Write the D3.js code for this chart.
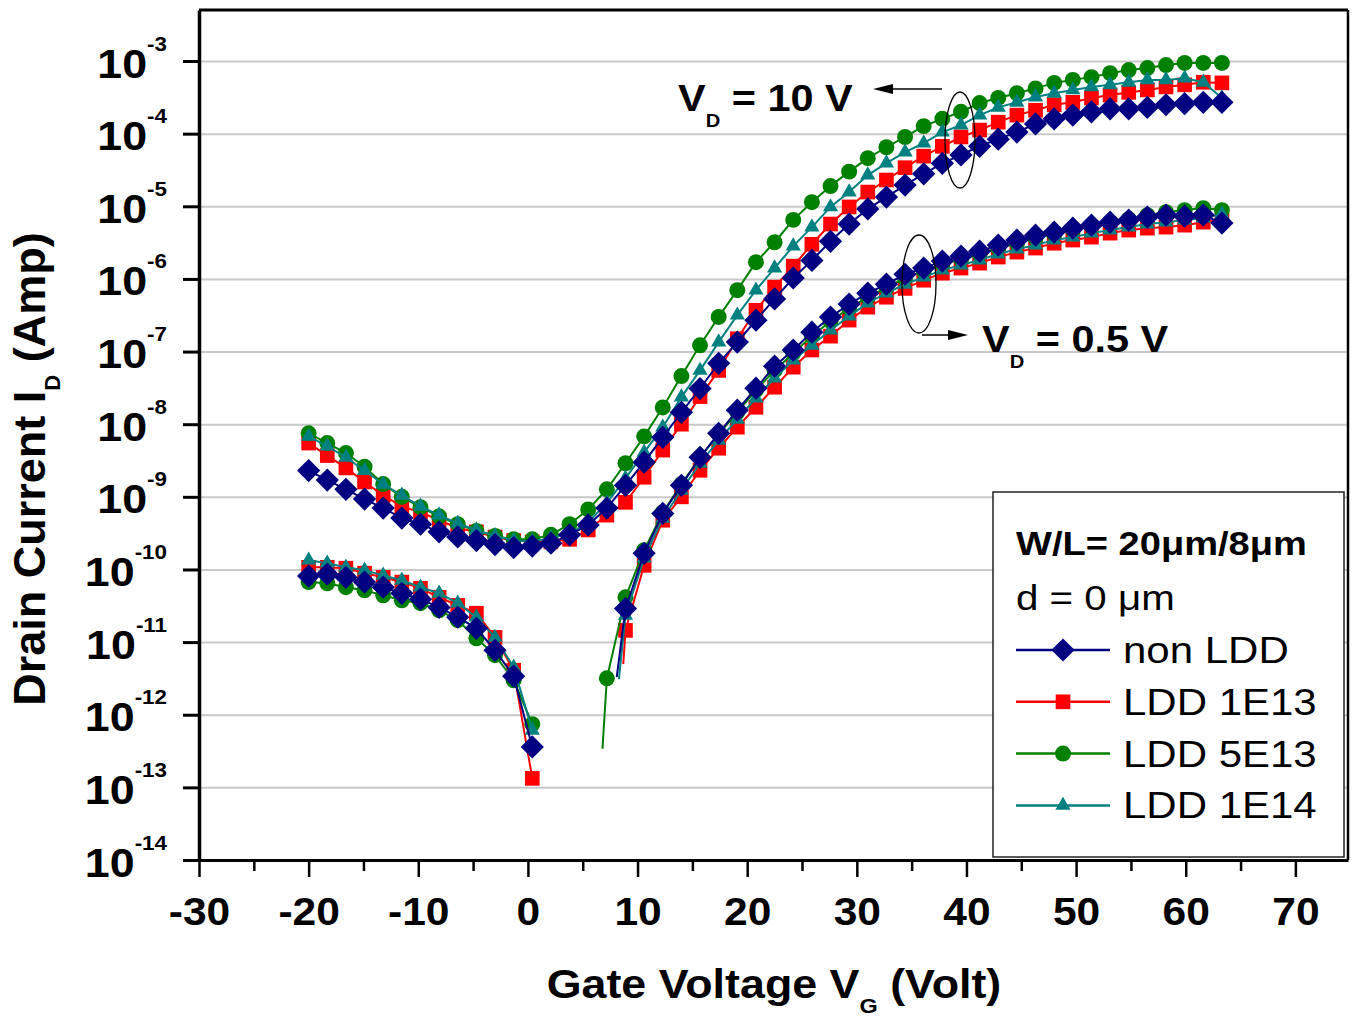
<!DOCTYPE html>
<html>
<head>
<meta charset="utf-8">
<script src="https://cdn.jsdelivr.net/npm/d3@7"></script>
<style>
  body { margin: 0; background: #fff; }
  svg { display: block; font-family: "Liberation Sans", Arial, sans-serif; }
</style>
</head>
<body>
<svg id="chart" width="1359" height="1019"></svg>
<script>
// gate voltage sweep (V), one value per plotted marker
const VG = [-20, -18.3, -16.6, -14.9, -13.2, -11.5, -9.8, -8.1, -6.4, -4.7,
  -3, -1.3, 0.4, 2.1, 3.8, 5.5, 7.2, 8.9, 10.6, 12.3,
  14, 15.7, 17.4, 19.1, 20.8, 22.5, 24.2, 25.9, 27.6, 29.3,
  31, 32.7, 34.4, 36.1, 37.8, 39.5, 41.2, 42.9, 44.6, 46.3,
  48, 49.7, 51.4, 53.1, 54.8, 56.5, 58.2, 59.9, 61.6, 63.3];

// drain current (A) at VD = 10 V
const nonLDD_10V = [2.3e-9, 1.7e-9, 1.27e-9, 9.3e-10, 7.0e-10, 5.1e-10, 4.2e-10, 3.3e-10, 2.8e-10, 2.5e-10,
  2.2e-10, 2.0e-10, 2.1e-10, 2.3e-10, 3.0e-10, 4.1e-10, 7.0e-10, 1.44e-9, 3.0e-9, 6.6e-9,
  1.46e-8, 3.1e-8, 6.9e-8, 1.35e-7, 2.7e-7, 5.3e-7, 1.03e-6, 1.8e-6, 3.3e-6, 5.7e-6,
  9.2e-6, 1.34e-5, 1.96e-5, 2.8e-5, 3.9e-5, 5.1e-5, 6.7e-5, 8.4e-5, 1.05e-4, 1.36e-4,
  1.6e-4, 1.8e-4, 2.0e-4, 2.2e-4, 2.2e-4, 2.3e-4, 2.5e-4, 2.6e-4, 2.7e-4, 2.7e-4];
const ldd1e13_10V = [5.5e-9, 3.7e-9, 2.5e-9, 1.6e-9, 1.05e-9, 7.4e-10, 6.1e-10, 4.8e-10, 3.7e-10, 3.3e-10,
  2.8e-10, 2.5e-10, 2.4e-10, 2.4e-10, 2.6e-10, 3.5e-10, 5.6e-10, 8.4e-10, 1.86e-9, 4.4e-9,
  1.0e-8, 2.4e-8, 5.5e-8, 1.5e-7, 3.7e-7, 7.7e-7, 1.5e-6, 3.0e-6, 5.7e-6, 9.8e-6,
  1.57e-5, 2.3e-5, 3.4e-5, 4.9e-5, 6.7e-5, 9.0e-5, 1.12e-4, 1.44e-4, 1.8e-4, 2.1e-4,
  2.5e-4, 2.7e-4, 3.1e-4, 3.4e-4, 3.7e-4, 4.0e-4, 4.4e-4, 4.7e-4, 5.1e-4, 5.0e-4];
const ldd5e13_10V = [7.5e-9, 5.5e-9, 4.0e-9, 2.6e-9, 1.5e-9, 1.0e-9, 7.2e-10, 5.4e-10, 4.2e-10, 3.4e-10,
  2.9e-10, 2.6e-10, 2.6e-10, 3.0e-10, 4.2e-10, 6.7e-10, 1.27e-9, 2.9e-9, 6.8e-9, 1.7e-8,
  4.6e-8, 1.22e-7, 3.0e-7, 7.0e-7, 1.7e-6, 3.2e-6, 6.5e-6, 1.14e-5, 1.9e-5, 3.0e-5,
  4.6e-5, 6.5e-5, 9.0e-5, 1.27e-4, 1.6e-4, 2.0e-4, 2.64e-4, 3.1e-4, 3.6e-4, 4.2e-4,
  5.0e-4, 5.5e-4, 6.0e-4, 6.8e-4, 7.5e-4, 8.0e-4, 8.8e-4, 9.4e-4, 9.4e-4, 9.4e-4];
const ldd1e14_10V = [6.8e-9, 5.0e-9, 3.5e-9, 2.3e-9, 1.49e-9, 1.05e-9, 7.4e-10, 5.6e-10, 4.3e-10, 3.5e-10,
  2.9e-10, 2.5e-10, 2.45e-10, 2.7e-10, 3.15e-10, 4.46e-10, 8.2e-10, 1.8e-9, 4.1e-9, 9.1e-9,
  2.36e-8, 5.5e-8, 1.35e-7, 3.17e-7, 7.0e-7, 1.41e-6, 2.83e-6, 5.17e-6, 9.8e-6, 1.57e-5,
  2.69e-5, 3.94e-5, 5.58e-5, 7.4e-5, 1.05e-4, 1.31e-4, 1.8e-4, 2.3e-4, 2.7e-4, 3.19e-4,
  3.6e-4, 4.0e-4, 4.4e-4, 4.7e-4, 5.1e-4, 5.5e-4, 5.5e-4, 5.8e-4, 5.1e-4, 3.1e-4];

// drain current (A) at VD = 0.5 V (null = no reading, current changes sign)
const nonLDD_05V = [8.1e-11, 8.6e-11, 7.8e-11, 6.7e-11, 5.7e-11, 4.7e-11, 3.9e-11, 3.0e-11, 2.2e-11, 1.55e-11,
  7.7e-12, 3.4e-12, 3.6e-13, null, null, null, null, 2.9e-11, 1.67e-10, 5.9e-10,
  1.44e-9, 3.5e-9, 7.5e-9, 1.56e-8, 3.13e-8, 6.3e-8, 1.05e-7, 1.85e-7, 2.98e-7, 4.5e-7,
  6.37e-7, 8.45e-7, 1.16e-6, 1.41e-6, 1.76e-6, 2.06e-6, 2.41e-6, 2.92e-6, 3.43e-6, 4.0e-6,
  4.4e-6, 5.0e-6, 5.5e-6, 6.05e-6, 6.46e-6, 7.1e-6, 7.56e-6, 7.3e-6, 7.56e-6, 5.87e-6];
const ldd1e13_05V = [1.07e-10, 1.07e-10, 1.04e-10, 8.9e-11, 7.8e-11, 6.7e-11, 5.5e-11, 4.14e-11, 3.2e-11, 2.5e-11,
  1.16e-11, 4.1e-12, 1.33e-13, null, null, null, null, 1.45e-11, 1.14e-10, 4.76e-10,
  1.0e-9, 2.32e-9, 4.67e-9, 9.1e-9, 1.71e-8, 3.23e-8, 6.1e-8, 1.05e-7, 1.63e-7, 2.71e-7,
  4.09e-7, 5.6e-7, 7.4e-7, 9.6e-7, 1.2e-6, 1.41e-6, 1.65e-6, 2.0e-6, 2.34e-6, 2.66e-6,
  3.1e-6, 3.43e-6, 3.76e-6, 4.27e-6, 4.7e-6, 5.0e-6, 5.17e-6, 5.5e-6, 6.05e-6, 6.46e-6];
const ldd5e13_05V = [6.7e-11, 6.46e-11, 5.7e-11, 5.17e-11, 4.4e-11, 3.76e-11, 3.43e-11, 2.74e-11, 2.0e-11, 1.13e-11,
  6.6e-12, 2.98e-12, 7.4e-13, null, null, null, 3.17e-12, 4.14e-11, 1.84e-10, 6.1e-10,
  1.49e-9, 3.5e-9, 7.3e-9, 1.46e-8, 2.94e-8, 5.5e-8, 9.5e-8, 1.63e-7, 2.62e-7, 3.96e-7,
  5.6e-7, 7.6e-7, 1.03e-6, 1.28e-6, 1.6e-6, 1.87e-6, 2.2e-6, 2.66e-6, 3.1e-6, 3.65e-6,
  4.14e-6, 4.7e-6, 5.34e-6, 6.05e-6, 6.66e-6, 7.56e-6, 8.3e-6, 8.86e-6, 9.44e-6, 8.86e-6];
const ldd1e14_05V = [1.34e-10, 1.22e-10, 1.07e-10, 9.75e-11, 8.3e-11, 7.1e-11, 5.7e-11, 4.7e-11, 3.43e-11, 2.2e-11,
  1.16e-11, 4.5e-12, 6.1e-13, null, null, null, null, 2.34e-11, 1.43e-10, 5.07e-10,
  1.23e-9, 2.9e-9, 6.0e-9, 1.17e-8, 2.28e-8, 4.3e-8, 7.6e-8, 1.22e-7, 1.97e-7, 3.07e-7,
  4.64e-7, 6.37e-7, 8.45e-7, 1.06e-6, 1.32e-6, 1.55e-6, 1.82e-6, 2.2e-6, 2.57e-6, 2.92e-6,
  3.43e-6, 3.76e-6, 4.27e-6, 4.7e-6, 5.17e-6, 5.7e-6, 6.05e-6, 6.46e-6, 6.9e-6, 7.8e-6];

// first reading of the rising 0.5 V branch (line only, no marker)
const onsetVG = [8.1, 8.7, 6.8, 8.3];
const onsetI = [3.3e-12, 5.0e-12, 3.4e-13, 3.1e-12];

const seriesNames = ['non LDD', 'LDD 1E13', 'LDD 5E13', 'LDD 1E14'];
const seriesColors = ['#000080', '#ff0000', '#008000', '#008080'];

const xMajor = [-30, -20, -10, 0, 10, 20, 30, 40, 50, 60, 70];
const xMinor = [-25, -15, -5, 5, 15, 25, 35, 45, 55, 65];
const yDecades = [1e-14, 1e-13, 1e-12, 1e-11, 1e-10, 1e-9, 1e-8, 1e-7, 1e-6, 1e-5, 1e-4, 1e-3];

const SX = 1.12; // picture is a little wider than tall
const M = { left: 199, right: 1348, top: 10, bottom: 860 };

const svg = d3.select('#chart');
const x = d3.scaleLinear().domain([-30, 74.8]).range([M.left, M.right]);
const y = d3.scaleLog().domain([1e-14, Math.pow(10, -2.2975)]).range([M.bottom, M.top]);

const diamond = {
  draw(ctx, size) {
    const r = Math.sqrt(size / 2);
    ctx.moveTo(0, -r); ctx.lineTo(r, 0); ctx.lineTo(0, r); ctx.lineTo(-r, 0); ctx.closePath();
  }
};
const symbols = [
  d3.symbol(diamond, 270),
  d3.symbol(d3.symbolSquare, 215),
  d3.symbol(d3.symbolCircle, 200),
  d3.symbol(d3.symbolTriangle, 100)
];

// grid
svg.append('g')
  .attr('transform', `translate(${M.left},0)`)
  .call(d3.axisLeft(y).tickValues(yDecades.slice(1)).tickSize(-(M.right - M.left)).tickFormat(''))
  .call((g) => g.select('.domain').remove())
  .selectAll('line').attr('stroke', '#c8c8c8').attr('stroke-width', 2);

// frame
svg.append('line').attr('x1', M.left).attr('x2', M.right).attr('y1', M.top).attr('y2', M.top)
  .attr('stroke', '#000').attr('stroke-width', 3);
svg.append('line').attr('x1', M.right).attr('x2', M.right).attr('y1', M.top).attr('y2', M.bottom)
  .attr('stroke', '#000').attr('stroke-width', 2.5);

// curves
const line = d3.line()
  .defined((d) => d[1] != null)
  .x((d) => x(d[0]))
  .y((d) => y(d[1]));

const curves10 = [nonLDD_10V, ldd1e13_10V, ldd5e13_10V, ldd1e14_10V];
const curves05 = [nonLDD_05V, ldd1e13_05V, ldd5e13_05V, ldd1e14_05V];
const drawOrder = [1, 2, 3, 0];

const plot = svg.append('g');
const drawCurve = (vals, k, extra) => {
  const pts = VG.map((v, i) => [v, vals[i]]);
  const linePts = extra ? pts.concat([extra]).sort((a, b) => a[0] - b[0]) : pts;
  const g = plot.append('g');
  g.append('path')
    .attr('d', line(linePts))
    .attr('fill', 'none')
    .attr('stroke', seriesColors[k])
    .attr('stroke-width', 2);
  g.selectAll('path.mk')
    .data(pts.filter((d) => d[1] != null))
    .enter().append('path')
    .attr('class', 'mk')
    .attr('d', symbols[k])
    .attr('transform', (d) => `translate(${x(d[0])},${y(d[1])})`)
    .attr('fill', seriesColors[k]);
};
drawOrder.forEach((k) => drawCurve(curves10[k], k, null));
drawOrder.forEach((k) => drawCurve(curves05[k], k, [onsetVG[k], onsetI[k]]));

// x axis
const xAxis = svg.append('g').attr('transform', `translate(0,${M.bottom})`);
xAxis.append('g')
  .call(d3.axisBottom(x).tickValues(xMinor).tickSize(11).tickSizeOuter(0).tickFormat(''))
  .call((g) => g.select('.domain').remove())
  .selectAll('line').attr('stroke', '#000').attr('stroke-width', 2.5);
xAxis.append('g')
  .call(d3.axisBottom(x).tickValues(xMajor).tickSize(17).tickSizeOuter(0).tickFormat((d) => String(d)))
  .call((g) => g.select('.domain').attr('stroke', '#000').attr('stroke-width', 3))
  .call((g) => g.selectAll('line').attr('stroke', '#000').attr('stroke-width', 2.5))
  .call((g) => g.selectAll('text')
    .attr('y', 65).attr('dy', 0)
    .attr('transform', `scale(${SX},1)`)
    .attr('fill', '#000')
    .style('font-size', '38px').style('font-weight', 'bold')
    .style('font-family', '"Liberation Sans", Arial, sans-serif'));

// y axis
const yAxis = svg.append('g').attr('transform', `translate(${M.left},0)`);
yAxis.call(d3.axisLeft(y).tickValues(yDecades).tickSize(16).tickSizeOuter(0).tickFormat(''))
  .call((g) => g.select('.domain').attr('stroke', '#000').attr('stroke-width', 3.5))
  .call((g) => g.selectAll('line').attr('stroke', '#000').attr('stroke-width', 3));
yAxis.selectAll('.tick').each(function (d) {
  const t = d3.select(this).append('text')
    .attr('transform', `translate(-32,16) scale(${SX},1)`)
    .attr('text-anchor', 'end')
    .attr('fill', '#000')
    .style('font-weight', 'bold');
  t.append('tspan').style('font-size', '40px').text('10');
  t.append('tspan').style('font-size', '20px').attr('dy', -27).text(String(Math.round(Math.log10(d))));
});

// axis titles
const xt = svg.append('text')
  .attr('transform', `translate(774,998) scale(${SX},1)`)
  .attr('text-anchor', 'middle')
  .style('font-size', '40px').style('font-weight', 'bold');
xt.append('tspan').text('Gate Voltage V');
xt.append('tspan').style('font-size', '21px').attr('dy', 15).text('G');
xt.append('tspan').attr('dy', -15).text(' (Volt)');

const yt = svg.append('text')
  .attr('transform', 'translate(45,469) rotate(-90)')
  .attr('text-anchor', 'middle')
  .style('font-size', '45px').style('font-weight', 'bold');
yt.append('tspan').text('Drain Current I');
yt.append('tspan').style('font-size', '22px').attr('dy', 15).text('D');
yt.append('tspan').attr('dy', -15).text(' (Amp)');

// annotations
const vdLabel = (px, py, value) => {
  const t = svg.append('text')
    .attr('transform', `translate(${px},${py}) scale(${SX},1)`)
    .style('font-size', '37px').style('font-weight', 'bold');
  t.append('tspan').text('V');
  t.append('tspan').style('font-size', '18px').attr('dy', 16).text('D');
  t.append('tspan').attr('dy', -16).text(` = ${value} V`);
};
vdLabel(678, 111, '10');
vdLabel(982, 352, '0.5');

const arrow = (x1, x2, yy) => {
  const dir = Math.sign(x2 - x1);
  svg.append('line').attr('x1', x1).attr('x2', x2 - dir * 14).attr('y1', yy).attr('y2', yy)
    .attr('stroke', '#000').attr('stroke-width', 1.5);
  svg.append('path')
    .attr('d', `M${x2},${yy} L${x2 - dir * 20},${yy - 5} L${x2 - dir * 20},${yy + 5} Z`)
    .attr('fill', '#000');
};
arrow(942, 873, 89);
arrow(922, 968, 335);

svg.append('ellipse').attr('cx', 960).attr('cy', 140).attr('rx', 15).attr('ry', 48)
  .attr('fill', 'none').attr('stroke', '#000').attr('stroke-width', 1.3);
svg.append('ellipse').attr('cx', 919).attr('cy', 284).attr('rx', 17).attr('ry', 49)
  .attr('fill', 'none').attr('stroke', '#000').attr('stroke-width', 1.3);

// legend
const lg = svg.append('g');
lg.append('rect').attr('x', 993).attr('y', 492).attr('width', 351).attr('height', 365)
  .attr('fill', '#fff').attr('stroke', '#222').attr('stroke-width', 1.5);
lg.append('text').attr('transform', `translate(1016,555) scale(${SX},1)`)
  .style('font-size', '34px').style('font-weight', 'bold').text('W/L= 20μm/8μm');
lg.append('text').attr('transform', `translate(1016,610) scale(${SX},1)`)
  .style('font-size', '36px').text('d = 0 μm');
seriesNames.forEach((name, k) => {
  const cy = 650 + k * 51.8;
  lg.append('line').attr('x1', 1016).attr('x2', 1110).attr('y1', cy).attr('y2', cy)
    .attr('stroke', seriesColors[k]).attr('stroke-width', 2.5);
  lg.append('path').attr('d', symbols[k]).attr('transform', `translate(1063,${cy})`)
    .attr('fill', seriesColors[k]);
  lg.append('text').attr('transform', `translate(1123,${cy + 13}) scale(${SX},1)`)
    .style('font-size', '37.5px').text(name);
});
</script>
</body>
</html>
